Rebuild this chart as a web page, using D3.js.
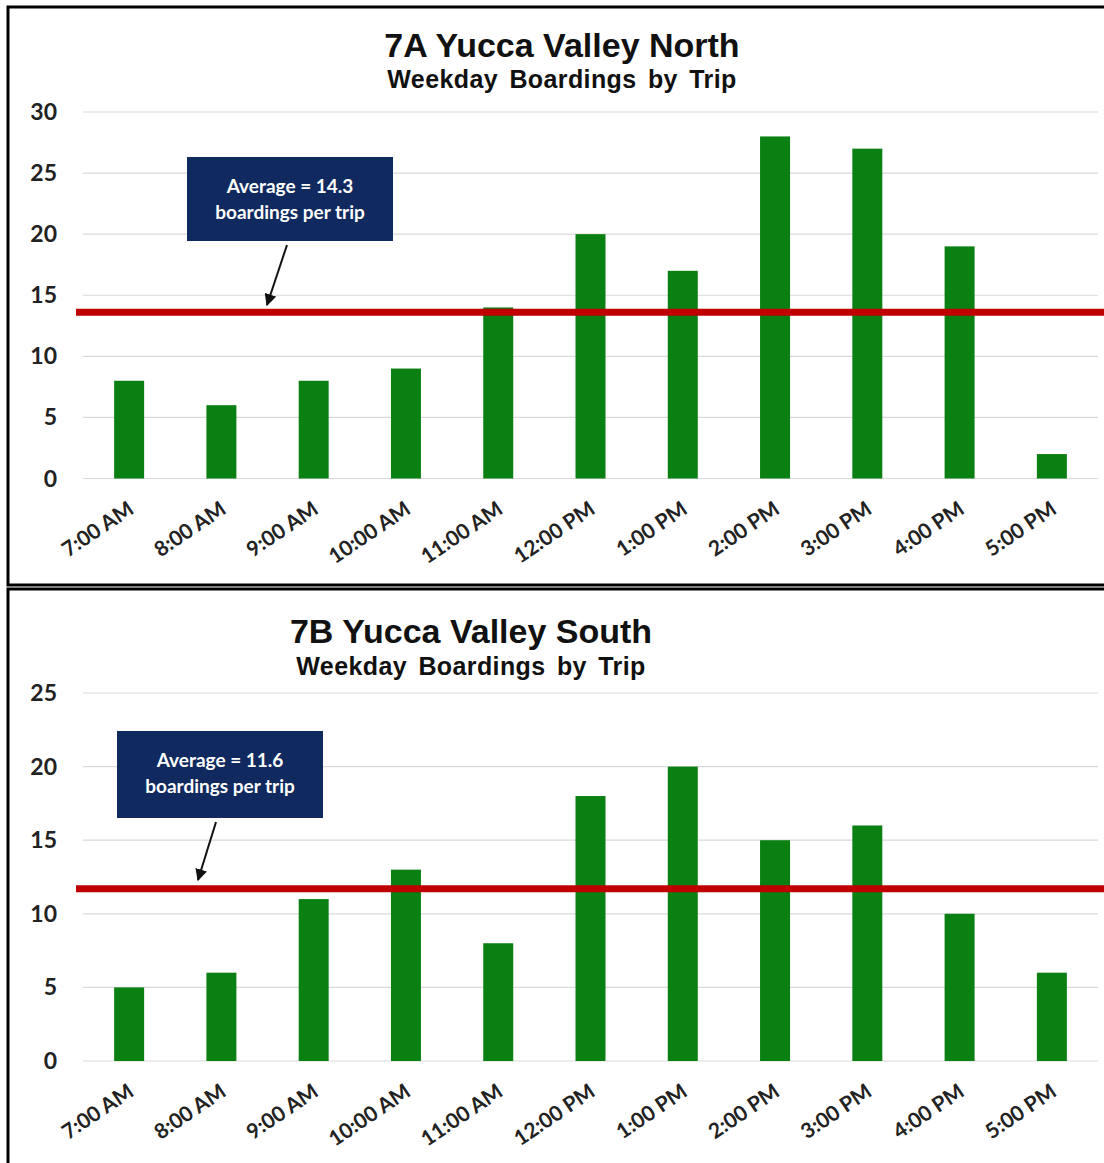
<!DOCTYPE html>
<html>
<head>
<meta charset="utf-8">
<script src="https://cdn.jsdelivr.net/npm/d3@7"></script>
<style>
  body { margin: 0; background: #fff; }
  .tick-y { font-family: Lato, "Open Sans", sans-serif; font-weight: 700; font-size: 23px; fill: #222; }
  .tick-x { font-family: Lato, "Open Sans", sans-serif; font-weight: 700; font-size: 21px; fill: #222; }
  .title { font-family: "Liberation Sans", Arial, sans-serif; font-weight: 700; fill: #111; }
  .note { font-family: Lato, "Open Sans", sans-serif; font-weight: 700; font-size: 19px; fill: #fff; }
</style>
</head>
<body>
<div id="chart-area"></div>
<script>
// trip start times (shared by both routes)
const tripTimes = ["7:00 AM", "8:00 AM", "9:00 AM", "10:00 AM", "11:00 AM", "12:00 PM",
  "1:00 PM", "2:00 PM", "3:00 PM", "4:00 PM", "5:00 PM"]

// 7A Yucca Valley North
const northBoardings = [8, 6, 8, 9, 14, 20, 17, 28, 27, 19, 2]
const northTicks = [0, 5, 10, 15, 20, 25, 30]
const northAvgLine = 13.6
const northAvgText = ["Average = 14.3", "boardings per trip"]

// 7B Yucca Valley South
const southBoardings = [5, 6, 11, 13, 8, 18, 20, 15, 16, 10, 6]
const southTicks = [0, 5, 10, 15, 20, 25]
const southAvgLine = 11.7
const southAvgText = ["Average = 11.6", "boardings per trip"]

const WIDTH = 1104
const HEIGHT = 1163

const svg = d3.select("#chart-area").append("svg")
  .attr("width", WIDTH)
  .attr("height", HEIGHT)

const panels = [
  {
    title: "7A Yucca Valley North", sub: "Weekday Boardings by Trip",
    values: northBoardings, ticks: northTicks, avg: northAvgLine, note: northAvgText,
    frame: [7, 585], plot: [112, 478.5], titleX: 562, titleY: 57, subY: 88,
    box: { x: 187, y: 157, w: 206, h: 84 }, arrow: [[287, 245], [267, 305]]
  },
  {
    title: "7B Yucca Valley South", sub: "Weekday Boardings by Trip",
    values: southBoardings, ticks: southTicks, avg: southAvgLine, note: southAvgText,
    frame: [589, 1175], plot: [693, 1061], titleX: 471, titleY: 643, subY: 675,
    box: { x: 117, y: 731, w: 206, h: 87 }, arrow: [[216, 822], [198, 880]]
  }
]

// arrow head
svg.append("defs").append("marker")
  .attr("id", "arrow")
  .attr("viewBox", "0 0 10 10")
  .attr("refX", 9).attr("refY", 5)
  .attr("markerWidth", 6).attr("markerHeight", 6)
  .attr("orient", "auto")
  .append("path")
  .attr("d", "M0,0 L10,5 L0,10 z")
  .attr("fill", "#111")

const x = d3.scaleBand()
  .domain(tripTimes)
  .range([83, 1098])
  .paddingInner(0.675)
  .paddingOuter(0.3375)

panels.forEach(p => {
  const g = svg.append("g")

  // panel frame
  g.append("rect")
    .attr("x", 8)
    .attr("y", p.frame[0])
    .attr("width", WIDTH + 20)
    .attr("height", p.frame[1] - p.frame[0])
    .attr("fill", "none")
    .attr("stroke", "#000")
    .attr("stroke-width", 3)

  const y = d3.scaleLinear()
    .domain([0, d3.max(p.ticks)])
    .range([p.plot[1], p.plot[0]])

  // gridlines
  g.selectAll(".grid")
    .data(p.ticks)
    .enter().append("line")
    .attr("x1", 83).attr("x2", 1098)
    .attr("y1", d => y(d)).attr("y2", d => y(d))
    .attr("stroke", "#d9d9d9")
    .attr("stroke-width", 1.2)

  // y labels
  g.selectAll(".tick-y")
    .data(p.ticks)
    .enter().append("text")
    .attr("class", "tick-y")
    .attr("x", 57)
    .attr("y", d => y(d))
    .attr("dy", "0.35em")
    .attr("text-anchor", "end")
    .text(d => d)

  // bars
  g.selectAll(".bar")
    .data(p.values)
    .enter().append("rect")
    .attr("x", (d, i) => x(tripTimes[i]))
    .attr("y", d => y(d))
    .attr("width", x.bandwidth())
    .attr("height", d => y(0) - y(d))
    .attr("fill", "#0a7f12")

  // x labels
  g.selectAll(".tick-x")
    .data(tripTimes)
    .enter().append("text")
    .attr("class", "tick-x")
    .attr("text-anchor", "end")
    .attr("transform", d => `translate(${x(d) + x.bandwidth() / 2 + 6}, ${y(0) + 34}) rotate(-34)`)
    .text(d => d)

  // average line
  g.append("line")
    .attr("x1", 76).attr("x2", 1104)
    .attr("y1", y(p.avg)).attr("y2", y(p.avg))
    .attr("stroke", "#c00000")
    .attr("stroke-width", 7)

  // titles
  g.append("text")
    .attr("class", "title")
    .attr("x", p.titleX).attr("y", p.titleY)
    .attr("text-anchor", "middle")
    .style("font-size", "34px")
    .text(p.title)
  g.append("text")
    .attr("class", "title")
    .attr("x", p.titleX).attr("y", p.subY)
    .attr("text-anchor", "middle")
    .style("font-size", "25px")
    .style("word-spacing", "4px")
    .style("letter-spacing", "0.4px")
    .text(p.sub)

  // annotation
  g.append("rect")
    .attr("x", p.box.x).attr("y", p.box.y)
    .attr("width", p.box.w).attr("height", p.box.h)
    .attr("fill", "#10295e")
  p.note.forEach((t, i) => {
    g.append("text")
      .attr("class", "note")
      .attr("x", p.box.x + p.box.w / 2)
      .attr("y", p.box.y + 36 + i * 26)
      .attr("text-anchor", "middle")
      .text(t)
  })
  g.append("line")
    .attr("x1", p.arrow[0][0]).attr("y1", p.arrow[0][1])
    .attr("x2", p.arrow[1][0]).attr("y2", p.arrow[1][1])
    .attr("stroke", "#111")
    .attr("stroke-width", 2)
    .attr("marker-end", "url(#arrow)")
})
</script>
</body>
</html>
